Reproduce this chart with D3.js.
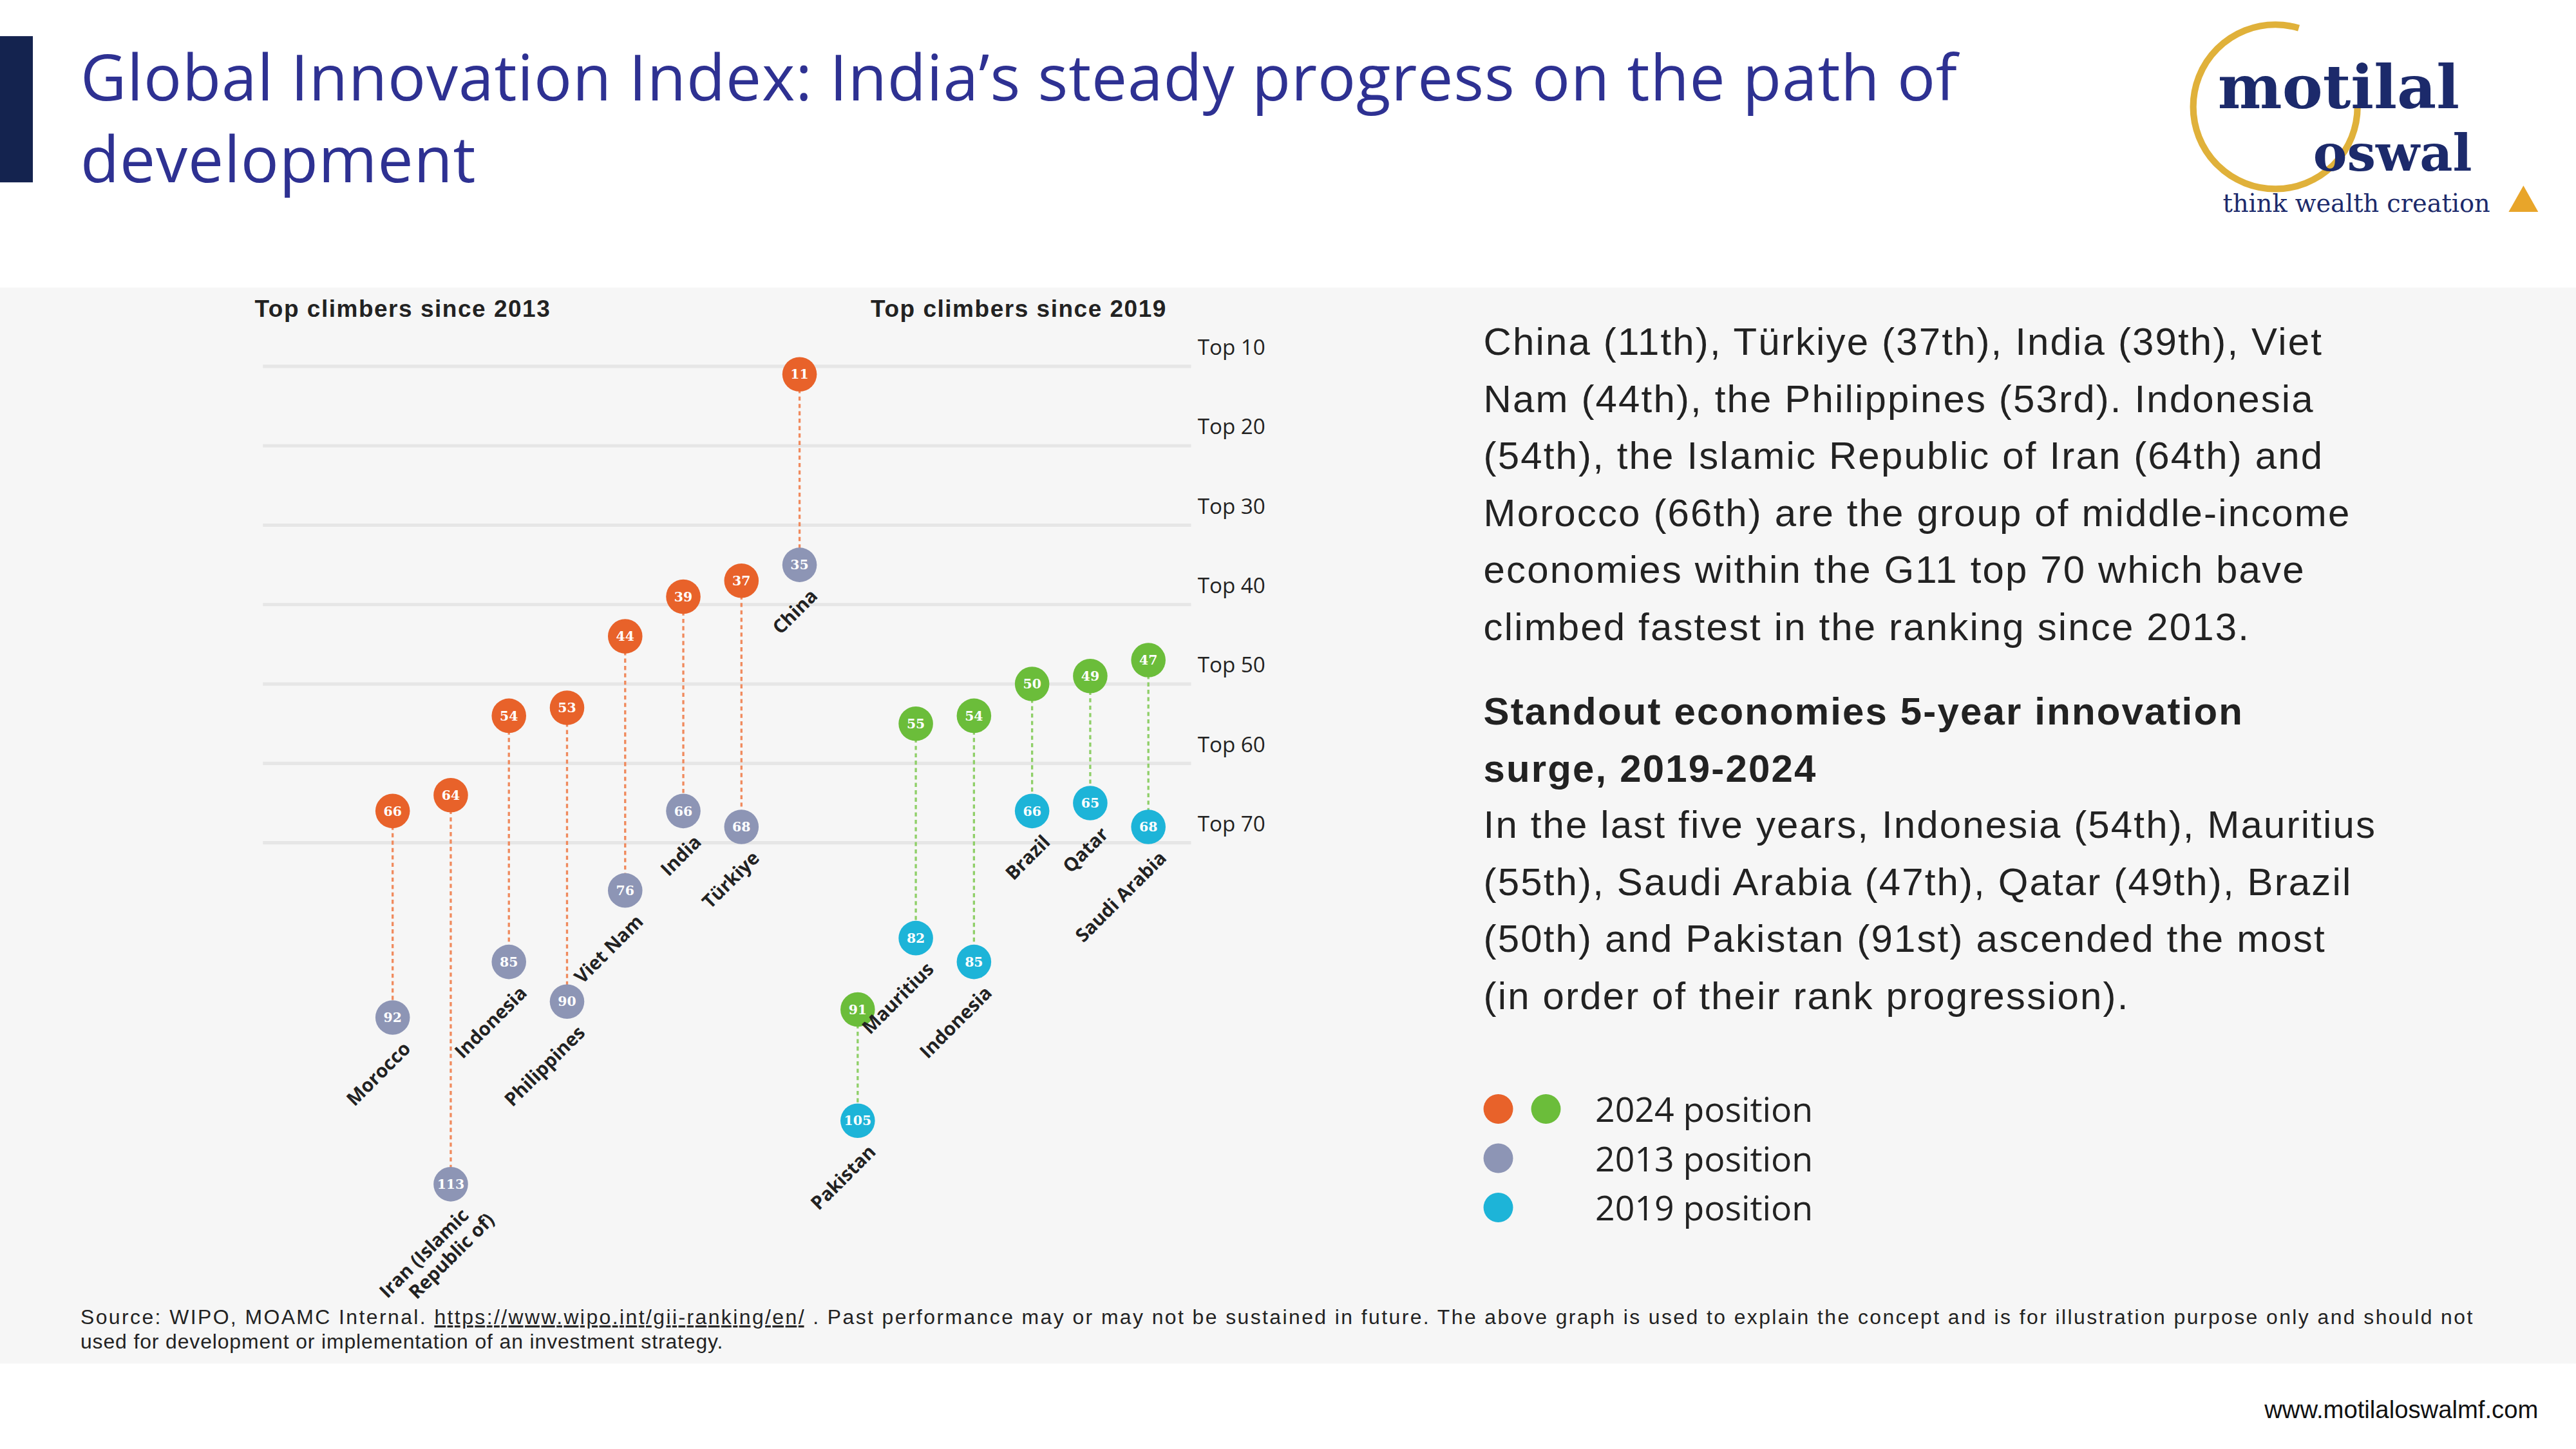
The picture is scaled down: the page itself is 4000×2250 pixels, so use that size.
<!DOCTYPE html>
<html><head><meta charset="utf-8">
<script src="https://cdn.jsdelivr.net/npm/d3@7"></script>
<style>body{margin:0;background:#fff}</style></head>
<body><svg id="c" width="4000" height="2250" viewBox="0 0 1568 882"></svg>
<script>
const countries = ["Morocco","Iran (Islamic|Republic of)","Indonesia","Philippines","Viet Nam","India","Türkiye","China","Pakistan","Mauritius","Indonesia","Brazil","Qatar","Saudi Arabia"];
const rank2024 = [66,64,54,53,44,39,37,11,91,55,54,50,49,47];
const rankBase = [92,113,85,90,76,66,68,35,105,82,85,66,65,68];
const baseGroup = ["2013","2013","2013","2013","2013","2013","2013","2013","2019","2019","2019","2019","2019","2019"];
const tickRanks = [10,20,30,40,50,60,70];
const tickLabels = ["Top 10","Top 20","Top 30","Top 40","Top 50","Top 60","Top 70"];

const svg = d3.select("#c");
const F = "'Open Sans', 'Noto Sans', sans-serif";
svg.append("rect").attr("x",0).attr("y",175).attr("width",1568).attr("height",655).attr("fill","#f6f6f6");
svg.append("rect").attr("x",0).attr("y",22).attr("width",20).attr("height",89).attr("fill","#14234f");
const title = svg.append("text").attr("x",49).attr("font-family",F).attr("font-size",38.5).attr("letter-spacing",0.35).attr("fill","#2e3192");
title.append("tspan").attr("x",49).attr("y",61).text("Global Innovation Index: India’s steady progress on the path of");
title.append("tspan").attr("x",49).attr("y",111).text("development");

// logo
const lg = svg.append("g");
lg.append("circle").attr("cx",1385).attr("cy",65).attr("r",50).attr("fill","none").attr("stroke","#e0b13a").attr("stroke-width",4).attr("stroke-dasharray","250 80");
lg.append("text").attr("x",1350).attr("y",66).attr("font-family","'DejaVu Serif',serif").attr("font-weight","bold").attr("font-size",37).attr("fill","#1c2a6b").text("motilal");
lg.append("text").attr("x",1408).attr("y",104).attr("font-family","'DejaVu Serif',serif").attr("font-weight","bold").attr("font-size",31).attr("fill","#1c2a6b").text("oswal");
lg.append("text").attr("x",1353).attr("y",129).attr("font-family","'DejaVu Serif',serif").attr("font-size",15).attr("fill","#1c2a6b").text("think wealth creation");
lg.append("path").attr("d","M1527,129 L1536,113 L1545,129 Z").attr("fill","#e8a52a");

const y = d3.scaleLinear().domain([10,70]).range([223,513]);
const x = d3.scalePoint().domain(d3.range(countries.length)).range([239,699]);

svg.append("g").selectAll("line").data(tickRanks).join("line")
  .attr("x1",160).attr("x2",725).attr("y1",d=>y(d)).attr("y2",d=>y(d)).attr("stroke","#e6e6e6").attr("stroke-width",2);
svg.append("g").selectAll("text").data(tickLabels).join("text")
  .attr("x",729).attr("y",(d,i)=>y(tickRanks[i])-7).attr("font-family","'Open Sans',sans-serif").attr("font-size",13).attr("fill","#222").text(d=>d);

svg.append("text").attr("x",155).attr("y",193).attr("font-family","'Liberation Sans',Arial,sans-serif").attr("font-weight","bold").attr("font-size",14.5).attr("letter-spacing",0.6).attr("fill","#222").text("Top climbers since 2013");
svg.append("text").attr("x",530).attr("y",193).attr("font-family","'Liberation Sans',Arial,sans-serif").attr("font-weight","bold").attr("font-size",14.5).attr("letter-spacing",0.6).attr("fill","#222").text("Top climbers since 2019");

const C = {o:"#e8622a",g:"#6bbd3a",gr:"#8d95b5",cy:"#1db4d8"};
const idx = d3.range(countries.length);
svg.append("g").selectAll("line").data(idx).join("line")
  .attr("x1",i=>x(i)).attr("x2",i=>x(i)).attr("y1",i=>y(rank2024[i])).attr("y2",i=>y(rankBase[i]))
  .attr("stroke",i=>baseGroup[i]==="2013"?"#f08a5d":"#8fcf68").attr("stroke-width",1.3).attr("stroke-dasharray","2.5 2");

function dots(vals, colFn){
  const g = svg.append("g").selectAll("g").data(idx).join("g").attr("transform",i=>`translate(${x(i)},${y(vals[i])})`);
  g.append("circle").attr("r",10.5).attr("fill",colFn);
  g.append("text").attr("text-anchor","middle").attr("dy","0.35em").attr("font-family","'DejaVu Serif',serif").attr("font-weight","bold").attr("font-size",8).attr("fill","#fff").text(i=>vals[i]);
}
dots(rankBase, i=>baseGroup[i]==="2013"?C.gr:C.cy);
dots(rank2024, i=>baseGroup[i]==="2013"?C.o:C.g);

const lab = svg.append("g").selectAll("text").data(idx).join("text")
  .attr("transform",i=>`translate(${x(i)+6},${y(rankBase[i])+14}) rotate(-45)`)
  .attr("text-anchor","end").attr("font-family","'Open Sans',sans-serif").attr("font-weight","bold").attr("font-size",11.5).attr("fill","#222");
lab.each(function(i){
  const parts = countries[i].split("|");
  const t = d3.select(this);
  parts.forEach((p,k)=>t.append("tspan").attr("x",k*9).attr("dy",k?13:8).text(p));
});

// right text
const RF = "'Liberation Sans',Arial,sans-serif";
const para1 = ["China (11th), Türkiye (37th), India (39th), Viet","Nam (44th), the Philippines (53rd). Indonesia","(54th), the Islamic Republic of Iran (64th) and","Morocco (66th) are the group of middle-income","economies within the G11 top 70 which bave","climbed fastest in the ranking since 2013."];
const head = ["Standout economies 5-year innovation","surge, 2019-2024"];
const para2 = ["In the last five years, Indonesia (54th), Mauritius","(55th), Saudi Arabia (47th), Qatar (49th), Brazil","(50th) and Pakistan (91st) ascended the most","(in order of their rank progression)."];
const tx = svg.append("g").attr("font-family",RF).attr("font-size",23.5).attr("letter-spacing",0.85).attr("fill","#222");
para1.forEach((s,i)=>tx.append("text").attr("x",903).attr("y",216+i*34.7).text(s));
head.forEach((s,i)=>tx.append("text").attr("x",903).attr("y",441+i*34.7).attr("font-weight","bold").text(s));
para2.forEach((s,i)=>tx.append("text").attr("x",903).attr("y",510+i*34.7).text(s));

const legItems = [{c:[C.o,C.g],t:"2024 position"},{c:[C.gr],t:"2013 position"},{c:[C.cy],t:"2019 position"}];
legItems.forEach((d,i)=>{
  d.c.forEach((c,k)=>svg.append("circle").attr("cx",912+k*29).attr("cy",675+i*30).attr("r",9).attr("fill",c));
  svg.append("text").attr("x",971).attr("y",683+i*30).attr("font-family","'Open Sans',sans-serif").attr("font-size",21).attr("fill","#222").text(d.t);
});

const src = svg.append("text").attr("font-family",RF).attr("font-size",12.5).attr("fill","#222").attr("textLength",1456).attr("lengthAdjust","spacing");
src.append("tspan").attr("x",49).attr("y",806).text("Source: WIPO, MOAMC Internal. ");
src.append("tspan").attr("text-decoration","underline").text("https://www.wipo.int/gii-ranking/en/");
src.append("tspan").text(" . Past performance may or may not be sustained in future. The above graph is used to explain the concept and is for illustration purpose only and should not");
svg.append("text").attr("x",49).attr("y",821).attr("font-family",RF).attr("font-size",12.5).attr("letter-spacing",0.35).attr("fill","#222").text("used for development or implementation of an investment strategy.");
svg.append("text").attr("x",1545).attr("y",863).attr("text-anchor","end").attr("font-family",RF).attr("font-size",15).attr("fill","#111").text("www.motilaloswalmf.com");
</script></body></html>
